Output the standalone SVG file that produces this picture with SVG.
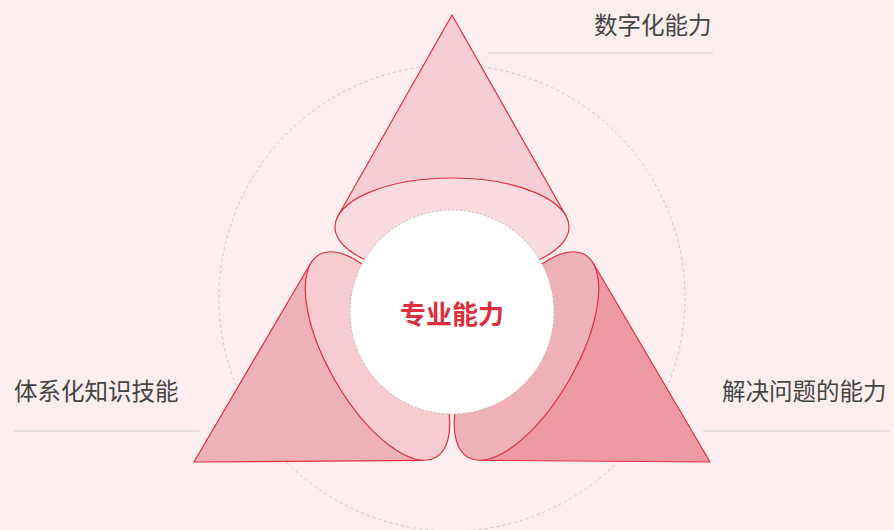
<svg xmlns="http://www.w3.org/2000/svg" width="894" height="530" viewBox="0 0 894 530">
  <style>
    .side { fill: none; stroke: #E0303F; stroke-width: 1.2; stroke-linejoin: round; }
    .rim { stroke: #E0303F; stroke-width: 1.2; }
    .label { font-family: "Noto Sans CJK SC", "Noto Sans", sans-serif; font-size: 23.5px; fill: #444444; }
    .rule { stroke: #CFCFCF; stroke-width: 1.2; }
  </style>
  <defs>
    <path id="coneBody" d="M452 15 L338.1 215.7 L565.9 215.7 Z"/>
    <path id="coneSide" d="M338.1 215.7 L452 15 L565.9 215.7"/>
  </defs>
  <rect x="0" y="0" width="894" height="530" fill="#FCEEEF"/>
  <circle cx="452" cy="298" r="233" fill="none" stroke="#C8C8C8" stroke-width="1" stroke-dasharray="3 3"/>

  <g id="cone-left" transform="rotate(-120 452 313)">
    <use href="#coneBody" fill="#EFB1B8"/>
    <use href="#coneSide" class="side"/>
    <ellipse class="rim" cx="452" cy="227" rx="117" ry="49" fill="#F6CCD1"/>
  </g>
  <g id="cone-right" transform="rotate(120 452 313)">
    <use href="#coneBody" fill="#EC99A2"/>
    <use href="#coneSide" class="side"/>
    <ellipse class="rim" cx="452" cy="227" rx="117" ry="49" fill="#EFB1B8"/>
  </g>
  <g id="cone-top">
    <use href="#coneBody" fill="#F6CDD2"/>
    <use href="#coneSide" class="side"/>
    <ellipse class="rim" cx="452" cy="227" rx="117" ry="49" fill="#F9DBDF"/>
  </g>

  <g id="center">
    <circle cx="452" cy="312" r="102" fill="#FFFFFF" stroke="#BDBDBD" stroke-width="1" stroke-dasharray="2 2"/>
    <text x="452" y="324" text-anchor="middle" font-family="Noto Sans CJK SC, Noto Sans, sans-serif" font-size="26" font-weight="bold" fill="#DC2E3D">专业能力</text>
  </g>

  <g id="label-top">
    <text class="label" x="594" y="34">数字化能力</text>
    <line class="rule" x1="488" y1="53" x2="713" y2="53"/>
  </g>
  <g id="label-left">
    <text class="label" x="14" y="400">体系化知识技能</text>
    <line class="rule" x1="14" y1="431" x2="200" y2="431"/>
  </g>
  <g id="label-right">
    <text class="label" x="722" y="400">解决问题的能力</text>
    <line class="rule" x1="703" y1="431" x2="890" y2="431"/>
  </g>
</svg>
